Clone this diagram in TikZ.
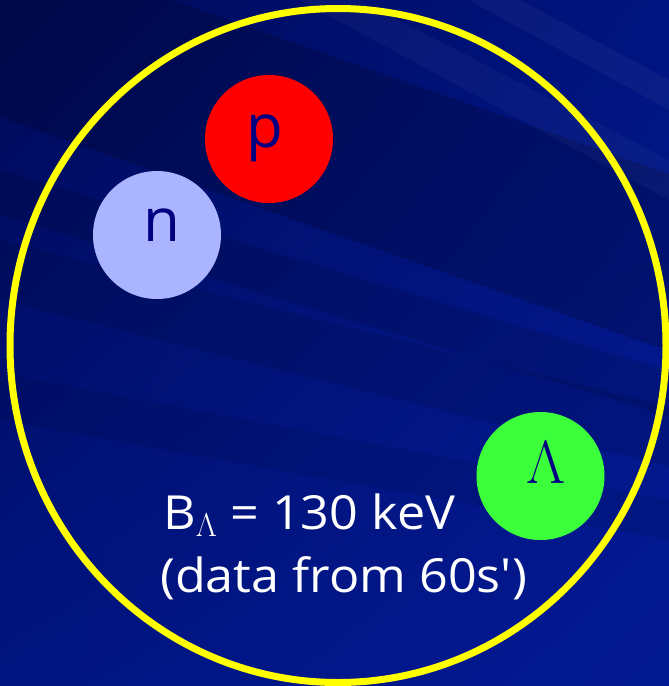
\RequirePackage{fix-cm}
\documentclass[tikz,border=0pt]{standalone}
\usepackage{fontspec}
\setmainfont{Open Sans}
\newfontfamily\infofont[FakeStretch=1.07]{Open Sans}
\usetikzlibrary{shadings}
\definecolor{bgdark}{RGB}{0,10,88}
\definecolor{bgmid}{RGB}{0,20,128}
\definecolor{bglight}{RGB}{4,26,148}
\definecolor{ringyellow}{RGB}{255,255,0}
\definecolor{protonred}{RGB}{255,0,0}
\definecolor{neutronblue}{RGB}{170,180,255}
\definecolor{lambdagreen}{RGB}{60,255,60}
\definecolor{labelnavy}{RGB}{0,0,128}
\begin{document}
\begin{tikzpicture}[x=1pt,y=-1pt,
  ball/.style={circle,minimum size=128pt,inner sep=0pt},
  balltext/.style={text=labelnavy,inner sep=0pt},
  infotext/.style={text=white,inner sep=0pt,anchor=base west,font=\infofont\fontsize{47}{56}\selectfont}]
  \useasboundingbox (0,0) rectangle (669,686);
  % background with streaks
  \shade[upper left=bgdark,upper right=bgmid,lower left=bgmid,lower right=bglight] (0,0) rectangle (669,686);
  \fill[black,opacity=0.18] (0,-60) -- (669,174) -- (669,351) -- (0,117) -- cycle;
  \fill[black,opacity=0.12] (0,170) -- (669,371) -- (669,416) -- (0,215) -- cycle;
  \fill[black,opacity=0.10] (0,240) -- (669,407) -- (669,467) -- (0,300) -- cycle;
  \fill[black,opacity=0.08] (0,373) -- (669,500) -- (669,540) -- (0,420) -- cycle;
  \fill[white,opacity=0.03] (300,0) -- (360,0) -- (669,160) -- (669,200) -- cycle;
  \fill[white,opacity=0.04] (469,0) -- (520,0) -- (669,80) -- (669,110) -- cycle;
  % nucleus
  \draw[ringyellow,line width=7pt] (338,345.5) ellipse [x radius=328,y radius=337];
  \node[ball,fill=protonred] (p) at (269,139) {};
  \node[ball,fill=neutronblue] (n) at (157,235) {};
  \node[ball,fill=lambdagreen] (lam) at (540.5,476) {};
  \node[balltext,font=\fontsize{60}{60}\selectfont] at ([xshift=-4pt,yshift=1pt]p.center) {p};
  \node[balltext,font=\fontsize{60}{60}\selectfont] at ([xshift=5pt,yshift=10pt]n.center) {n};
  \node[balltext,font=\fontsize{61}{61}\selectfont] at ([xshift=6pt,yshift=13pt]lam.center) {$\Lambda$};
  % binding energy
  \node[infotext] (energy) at (163,529) {B$_\Lambda$ = 130 keV};
  \node[infotext] (data) at (160,592) {(data from 60s')};
\end{tikzpicture}
\end{document}
